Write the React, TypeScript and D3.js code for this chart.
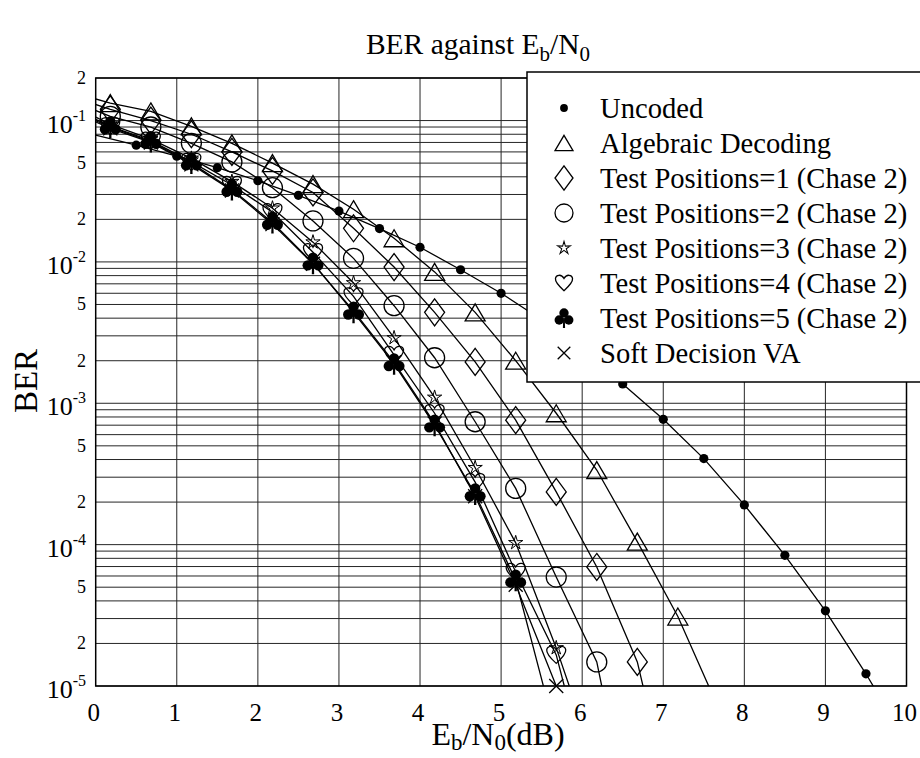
import React from 'react';
import * as d3 from 'd3';

// ---------- data ----------
const xUncoded = [0, 0.5, 1, 1.5, 2, 2.5, 3, 3.5, 4, 4.5, 5, 5.5, 6, 6.5, 7, 7.5, 8, 8.5, 9, 9.5, 10];
const berUncoded = [0.079, 0.067, 0.056, 0.0464, 0.0375, 0.0296, 0.0229, 0.0172, 0.0127, 0.0088, 0.006, 0.0039, 0.0024, 0.00137, 7.7e-4, 4.06e-4, 1.91e-4, 8.4e-5, 3.4e-5, 1.22e-5, 4.0e-6];

const xCoded = [-0.32, 0.18, 0.68, 1.18, 1.68, 2.18, 2.68, 3.18, 3.68, 4.18, 4.68, 5.18, 5.68, 6.18, 6.68, 7.18, 7.68];
const berAlgebraic = [0.16, 0.133, 0.116, 0.091, 0.069, 0.05, 0.0355, 0.0236, 0.0147, 0.0085, 0.0044, 0.002, 8.5e-4, 3.37e-4, 1.05e-4, 3.1e-5, 7e-6];
const berTP1 = [0.15, 0.12, 0.1, 0.08, 0.06, 0.044, 0.031, 0.0173, 0.0092, 0.0044, 0.00196, 7.6e-4, 2.36e-4, 6.95e-5, 1.48e-5, 9e-7];
const berTP2 = [0.14, 0.107, 0.09, 0.069, 0.051, 0.0335, 0.0195, 0.0106, 0.0049, 0.0021, 7.4e-4, 2.5e-4, 5.9e-5, 1.48e-5, 6e-7];
const berTP3 = [0.13, 0.094, 0.074, 0.054, 0.037, 0.024, 0.0138, 0.0071, 0.0029, 0.0011, 3.5e-4, 1.03e-4, 1.86e-5, 2.7e-6];
const berTP4 = [0.125, 0.091, 0.072, 0.051, 0.035, 0.0225, 0.0117, 0.0057, 0.0022, 8.5e-4, 2.77e-4, 6.4e-5, 1.66e-5, 1.3e-6];
const berTP5 = [0.12, 0.09, 0.071, 0.05, 0.0325, 0.019, 0.0098, 0.0044, 0.0019, 7.0e-4, 2.28e-4, 5.6e-5, 4.5e-6];
const berVA = [0.118, 0.088, 0.07, 0.049, 0.032, 0.0185, 0.0097, 0.0045, 0.00195, 7.2e-4, 2.2e-4, 5.2e-5, 1.0e-5];

const legendLabels = [
  'Uncoded',
  'Algebraic Decoding',
  'Test Positions=1 (Chase 2)',
  'Test Positions=2 (Chase 2)',
  'Test Positions=3 (Chase 2)',
  'Test Positions=4 (Chase 2)',
  'Test Positions=5 (Chase 2)',
  'Soft Decision VA',
];
const markerKinds = ['dot', 'triangle', 'diamond', 'circle', 'star', 'heart', 'club', 'cross'];

const xTickValues = [0, 1, 2, 3, 4, 5, 6, 7, 8, 9, 10];
const yMajorTicks = [1e-1, 1e-2, 1e-3, 1e-4, 1e-5];
const yMajorExponents = ['-1', '-2', '-3', '-4', '-5'];
const yMinorTicks = [0.2, 0.05, 0.02, 5e-3, 2e-3, 5e-4, 2e-4, 5e-5, 2e-5];
const yMinorLabels = ['2', '5', '2', '5', '2', '5', '2', '5', '2'];

// ---------- layout ----------
const W = 920;
const H = 758;
const left = 95.7;
const right = 906.5;
const top = 78;
const bottom = 686;
const FONT = '"Liberation Serif", "Times New Roman", serif';

const x = d3.scaleLinear().domain([0, 10]).range([left, right]);
const y = d3.scaleLog().domain([1e-5, 0.2]).range([bottom, top]);

const starPath = (() => {
  const pts: string[] = [];
  for (let i = 0; i < 10; i++) {
    const r = i % 2 === 0 ? 7.5 : 2.6;
    const a = -Math.PI / 2 + (i * Math.PI) / 5;
    pts.push(`${(r * Math.cos(a)).toFixed(2)},${(r * Math.sin(a)).toFixed(2)}`);
  }
  return 'M' + pts.join('L') + 'Z';
})();

function Marker({ kind, cx, cy, scale = 1 }: { kind: string; cx: number; cy: number; scale?: number }) {
  const t = `translate(${cx},${cy}) scale(${scale})`;
  const sw = 1.3 / scale;
  switch (kind) {
    case 'dot':
      return <circle cx={cx} cy={cy} r={4.6 * scale} fill="#000" />;
    case 'triangle':
      return <path transform={t} d="M0,-8.5L10,8.5L-10,8.5Z" fill="none" stroke="#000" strokeWidth={sw} />;
    case 'diamond':
      return <path transform={t} d="M0,-13.5L10,0L0,13.5L-10,0Z" fill="none" stroke="#000" strokeWidth={sw} />;
    case 'circle':
      return <circle cx={cx} cy={cy} r={10 * scale} fill="none" stroke="#000" strokeWidth={1.3} />;
    case 'star':
      return <path transform={t} d={starPath} fill="none" stroke="#000" strokeWidth={1 / scale} />;
    case 'heart':
      return (
        <path
          transform={t}
          d="M0,8.5C-5,4 -10,-1 -9.5,-5C-9,-9 -3,-10.5 0,-5C3,-10.5 9,-9 9.5,-5C10,-1 5,4 0,8.5Z"
          fill="none"
          stroke="#000"
          strokeWidth={sw}
        />
      );
    case 'club':
      return (
        <g transform={t} fill="#000">
          <circle cx={0} cy={-5.5} r={5.2} />
          <circle cx={-5.3} cy={2.2} r={5.2} />
          <circle cx={5.3} cy={2.2} r={5.2} />
          <path d="M-0.9,0L0.9,0L1.2,11L-1.2,11Z" />
        </g>
      );
    case 'cross':
      return <path transform={t} d="M-7,-7L7,7M-7,7L7,-7" fill="none" stroke="#000" strokeWidth={sw} />;
    default:
      return null;
  }
}

const seriesList = [
  { xs: xUncoded, ys: berUncoded, kind: markerKinds[0] },
  { xs: xCoded, ys: berAlgebraic, kind: markerKinds[1] },
  { xs: xCoded, ys: berTP1, kind: markerKinds[2] },
  { xs: xCoded, ys: berTP2, kind: markerKinds[3] },
  { xs: xCoded, ys: berTP3, kind: markerKinds[4] },
  { xs: xCoded, ys: berTP4, kind: markerKinds[5] },
  { xs: xCoded, ys: berTP5, kind: markerKinds[6] },
  { xs: xCoded, ys: berVA, kind: markerKinds[7] },
];

export default function App() {
  const line = d3
    .line<[number, number]>()
    .x((d) => x(d[0]))
    .y((d) => y(d[1]));

  const gridY = y.ticks();

  const legendX = 527;
  const legendTop = 72;
  const legendBottom = 382;
  const legendBase0 = 118;
  const legendStep = 35;

  return (
    <svg
      width={W}
      height={H}
      viewBox={`0 0 ${W} ${H}`}
      style={{ position: 'absolute', left: 0, top: 0, background: '#fff' }}
      fontFamily={FONT}
    >
      <rect x={0} y={0} width={W} height={H} fill="#fff" />
      <defs>
        <clipPath id="plotClip">
          <rect x={left} y={top} width={right - left} height={bottom - top} />
        </clipPath>
      </defs>

      {/* title */}
      <text x={478} y={54} textAnchor="middle" fontSize={29.5} fill="#000">
        BER against E
        <tspan fontSize={21} dy={7}>b</tspan>
        <tspan dy={-7}>/N</tspan>
        <tspan fontSize={21} dy={7}>0</tspan>
      </text>

      {/* grid */}
      <g stroke="#000" strokeWidth={1} opacity={0.85}>
        {gridY.map((v, i) => (
          <line key={'h' + i} x1={left} x2={right} y1={y(v)} y2={y(v)} />
        ))}
        {xTickValues.slice(1, -1).map((v) => (
          <line key={'v' + v} x1={x(v)} x2={x(v)} y1={top} y2={bottom} />
        ))}
      </g>
      <rect x={left} y={top} width={right - left} height={bottom - top} fill="none" stroke="#000" strokeWidth={1.5} />

      {/* curves */}
      <g clipPath="url(#plotClip)" fill="none" stroke="#000" strokeWidth={1.3}>
        {seriesList.map((s, i) => (
          <path key={'l' + i} d={line(s.ys.map((v, j) => [s.xs[j], v] as [number, number])) || ''} />
        ))}
      </g>

      {/* markers */}
      <g>
        {seriesList.map((s, i) =>
          s.ys.map((v, j) =>
            s.xs[j] > 0.05 && v >= 0.95e-5 ? (
              <Marker key={`m${i}-${j}`} kind={s.kind} cx={x(s.xs[j])} cy={y(v)} />
            ) : null
          )
        )}
      </g>

      {/* y tick labels */}
      <g fill="#000">
        {yMajorTicks.map((v, i) => (
          <text key={'ym' + i} x={86} y={y(v) + 12} textAnchor="end" fontSize={26}>
            10
            <tspan fontSize={16} dy={-12}>{yMajorExponents[i]}</tspan>
          </text>
        ))}
        {yMinorTicks.map((v, i) => (
          <text key={'yn' + i} x={86} y={y(v) + 6} textAnchor="end" fontSize={18}>
            {yMinorLabels[i]}
          </text>
        ))}
      </g>

      {/* x tick labels */}
      <g fill="#000">
        {xTickValues.map((v) => (
          <text key={'xt' + v} x={x(v) - 2} y={721} textAnchor="middle" fontSize={25}>
            {v}
          </text>
        ))}
      </g>

      {/* axis titles */}
      <text x={498} y={745} textAnchor="middle" fontSize={32} fill="#000">
        E<tspan fontSize={23} dy={5}>b</tspan>
        <tspan dy={-5}>/N</tspan>
        <tspan fontSize={23} dy={5}>0</tspan>
        <tspan dy={-5}>(dB)</tspan>
      </text>
      <text transform="translate(37,381) rotate(-90)" textAnchor="middle" fontSize={33} fill="#000">
        BER
      </text>

      {/* legend */}
      <rect
        x={legendX}
        y={legendTop}
        width={W - legendX + 20}
        height={legendBottom - legendTop}
        fill="#fff"
        stroke="#000"
        strokeWidth={1.5}
      />
      {legendLabels.map((lab, i) => {
        const base = legendBase0 + i * legendStep;
        return (
          <g key={'lg' + i}>
            <Marker kind={markerKinds[i]} cx={564} cy={base - 10} scale={markerKinds[i] === 'dot' ? 0.85 : 0.9} />
            <text x={600} y={base} fontSize={28.6} fill="#000">
              {lab}
            </text>
          </g>
        );
      })}
    </svg>
  );
}
